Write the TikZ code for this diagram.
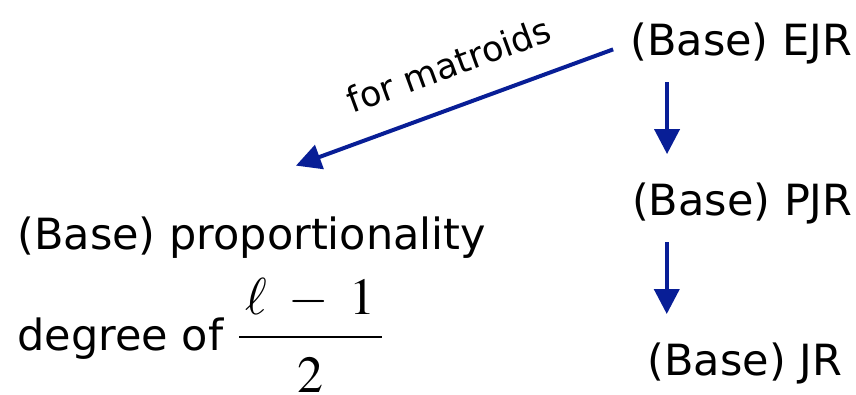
\documentclass[tikz,border=0pt]{standalone}
\usepackage{mathptmx}
\usepackage[no-math]{fontspec}
\setmainfont{DejaVu Sans}
\usetikzlibrary{arrows.meta}
\definecolor{arrowblue}{RGB}{8,30,150}

\begin{document}
\begin{tikzpicture}[font=\fontsize{21.5}{25}\selectfont,
  txt/.style={inner sep=0pt, anchor=base west},
  lbl/.style={font=\fontsize{17.5}{21}\selectfont},
  link/.style={-{Triangle[length=12.5pt,width=12.5pt]}, line width=2pt, draw=arrowblue}]
\useasboundingbox (0,0) rectangle (15.04,6.94);
\node[txt] (ejr) at (11.07,5.97) {(Base) EJR};
\node[txt] (pjr) at (11.10,3.16) {(Base) PJR};
\node[txt] (jr) at (11.37,0.35) {(Base) JR};
\node[txt] (prop) at (0.30,2.55) {(Base) proportionality};
\node[txt] (deg) at (0.30,0.79) {degree of {\fontsize{26}{28}\selectfont$\displaystyle\frac{\hspace{3pt}\ell\hspace{7pt}-\hspace{7pt}1\hspace{3pt}}{\rule{0pt}{24pt}2}$}};
\coordinate (tip) at (5.20,4.03);
\draw[link, shorten <=9pt] (ejr.west) -- node[lbl, midway, above=10pt, sloped]{for matroids} (tip);
\draw[link, shorten <=9pt, shorten >=14pt] ([xshift=18.5pt]ejr.south west) -- ([xshift=18.5pt]ejr.south west |- pjr.north);
\draw[link, shorten <=9pt, shorten >=14pt] ([xshift=17.5pt]pjr.south west) -- ([xshift=17.5pt]pjr.south west |- jr.north);
\end{tikzpicture}
\end{document}
